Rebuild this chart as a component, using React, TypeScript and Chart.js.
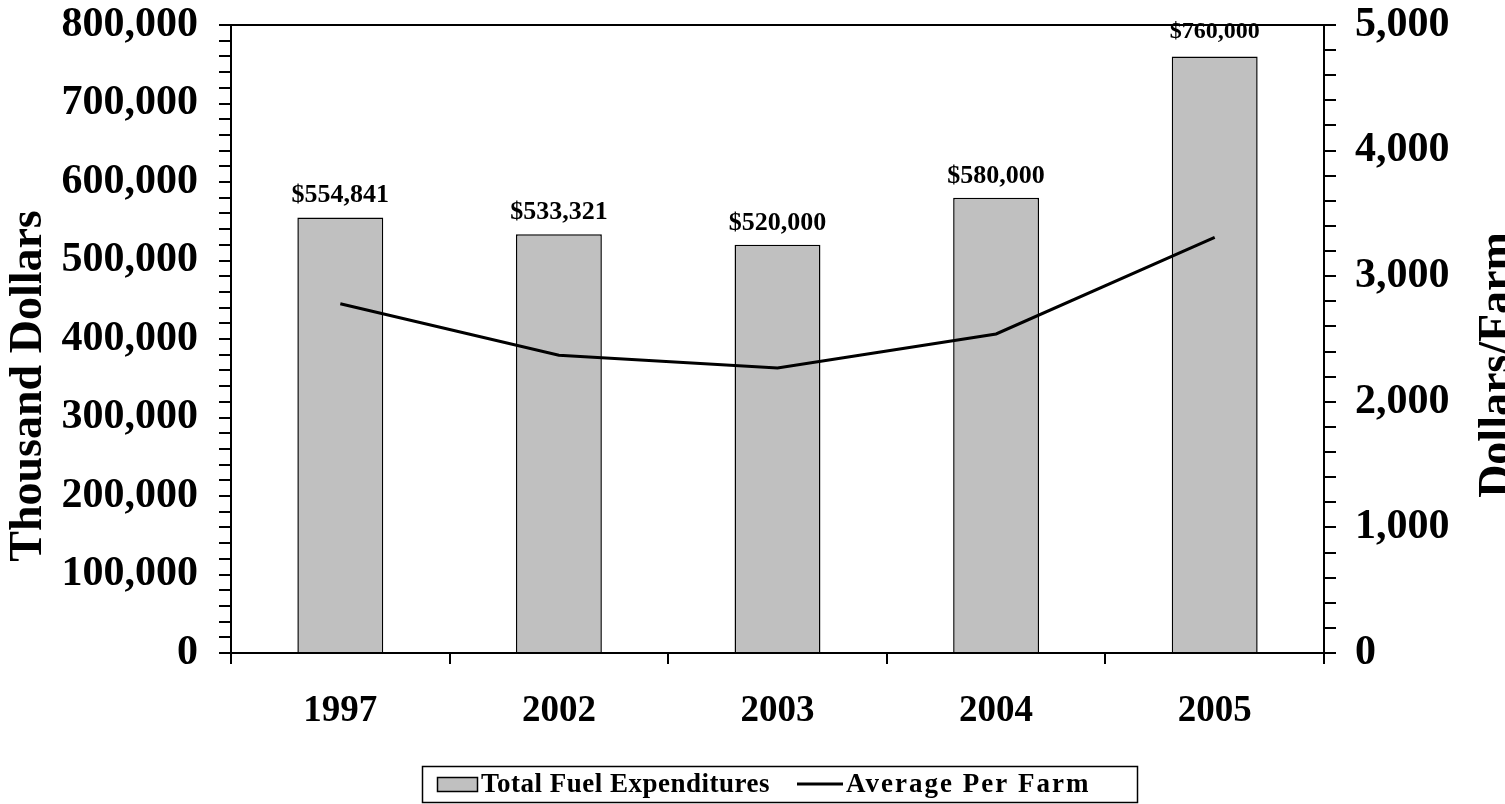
import React, { useEffect, useRef } from "react";
import { Chart, registerables } from "chart.js";

Chart.register(...registerables);

const categories = ["1997", "2002", "2003", "2004", "2005"];
const totalFuel = [554841, 533321, 520000, 580000, 760000];
const avgPerFarm = [2780, 2370, 2270, 2540, 3310];
const seriesNames = ["Total Fuel Expenditures", "Average Per Farm"];
const axisTitles = ["Thousand Dollars", "Dollars/Farm"];

const FONT = "'Liberation Serif', 'Times New Roman', serif";
const fmt = (v: number) => Math.round(v).toLocaleString("en-US");

const extrasPlugin = {
  id: "extras",
  afterDraw(chart: any) {
    const ctx = chart.ctx as CanvasRenderingContext2D;
    const ca = chart.chartArea;
    ctx.save();
    // top frame line
    ctx.strokeStyle = "#000";
    ctx.lineWidth = 2;
    ctx.beginPath();
    ctx.moveTo(ca.left, ca.top);
    ctx.lineTo(ca.right, ca.top);
    ctx.stroke();

    // data labels above bars
    const meta = chart.getDatasetMeta(0);
    const vals = chart.data.datasets[0].data as number[];
    ctx.fillStyle = "#000";
    ctx.textAlign = "center";
    ctx.textBaseline = "alphabetic";
    meta.data.forEach((el: any, i: number) => {
      const last = i === meta.data.length - 1;
      ctx.font = `bold ${last ? 24 : 26}px ${FONT}`;
      ctx.fillText("$" + fmt(vals[i]), el.x, el.y - (last ? 18 : 15));
    });

    // axis titles
    ctx.font = `bold 46px ${FONT}`;
    ctx.textAlign = "center";
    ctx.textBaseline = "alphabetic";
    ctx.save();
    ctx.translate(41, 386);
    ctx.rotate(-Math.PI / 2);
    ctx.fillText(axisTitles[0], 0, 0);
    ctx.restore();
    ctx.save();
    ctx.translate(1510, 365);
    ctx.rotate(-Math.PI / 2);
    ctx.fillText(axisTitles[1], 0, 0);
    ctx.restore();

    // legend
    ctx.lineWidth = 1.5;
    ctx.strokeStyle = "#000";
    ctx.strokeRect(422.5, 766.5, 715, 36);
    ctx.fillStyle = chart.data.datasets[0].backgroundColor;
    ctx.fillRect(437, 777, 40, 14);
    ctx.lineWidth = 1.5;
    ctx.strokeRect(437.5, 777.5, 40, 14);
    ctx.fillStyle = "#000";
    ctx.font = `bold 27px ${FONT}`;
    (ctx as any).letterSpacing = "0.5px";
    ctx.textAlign = "left";
    ctx.textBaseline = "middle";
    ctx.fillText(chart.data.datasets[0].label, 481, 785);
    ctx.lineWidth = 3;
    ctx.beginPath();
    ctx.moveTo(797, 784);
    ctx.lineTo(843, 784);
    ctx.stroke();
    (ctx as any).letterSpacing = "2px";
    ctx.fillText(chart.data.datasets[1].label, 846, 785);
    (ctx as any).letterSpacing = "0px";
    ctx.restore();
  },
};

export default function App() {
  const ref = useRef<HTMLCanvasElement | null>(null);
  useEffect(() => {
    document.body.style.margin = "0";
    if (!ref.current) return;
    const chart = new Chart(ref.current, {
      type: "bar",
      data: {
        labels: categories,
        datasets: [
          {
            type: "bar",
            label: seriesNames[0],
            data: totalFuel,
            backgroundColor: "#c0c0c0",
            borderColor: "#000",
            borderWidth: 1.5,
            barPercentage: 0.393,
            categoryPercentage: 1,
            yAxisID: "y",
            order: 1,
          },
          {
            type: "line",
            label: seriesNames[1],
            data: avgPerFarm,
            borderColor: "#000",
            backgroundColor: "#000",
            borderWidth: 3,
            pointRadius: 0,
            tension: 0,
            yAxisID: "y1",
            order: 0,
          },
        ],
      } as any,
      options: {
        responsive: false,
        animation: false,
        devicePixelRatio: 1,
        layout: { padding: { top: 25, left: 0, right: 0, bottom: 0 } },
        plugins: { legend: { display: false }, tooltip: { enabled: false } },
        scales: {
          x: {
            offset: true,
            grid: { offset: true, drawOnChartArea: false, drawTicks: true, tickLength: 11, color: "#000", lineWidth: 2 },
            border: { color: "#000", width: 2 },
            ticks: { color: "#000", font: { family: FONT, size: 37, weight: "bold" }, padding: 25, maxRotation: 0 },
            afterFit: (s: any) => { s.height = 151; s.paddingLeft = 0; s.paddingRight = 0; },
          },
          y: {
            position: "left",
            min: 0,
            max: 800000,
            grid: { drawOnChartArea: false, drawTicks: true, tickLength: 12, color: "#000", lineWidth: 2 },
            border: { color: "#000", width: 2 },
            ticks: {
              stepSize: 20000,
              autoSkip: false,
              color: "#000",
              font: { family: FONT, size: 42, weight: "bold" },
              padding: 21,
              callback: (v: any) => (Number(v) % 100000 === 0 ? fmt(Number(v)) : ""),
            },
            afterFit: (s: any) => { s.width = 231; s.paddingTop = 0; s.paddingBottom = 0; },
          },
          y1: {
            position: "right",
            min: 0,
            max: 5000,
            grid: { drawOnChartArea: false, drawTicks: true, tickLength: 12, color: "#000", lineWidth: 2 },
            border: { color: "#000", width: 2 },
            ticks: {
              stepSize: 200,
              autoSkip: false,
              color: "#000",
              font: { family: FONT, size: 42, weight: "bold" },
              padding: 19,
              callback: (v: any) => (Number(v) % 1000 === 0 ? fmt(Number(v)) : ""),
            },
            afterFit: (s: any) => { s.width = 181; s.paddingTop = 0; s.paddingBottom = 0; },
          },
        },
      } as any,
      plugins: [extrasPlugin],
    });
    return () => chart.destroy();
  }, []);
  return <canvas ref={ref} width={1505} height={804} style={{ display: "block" }} />;
}
